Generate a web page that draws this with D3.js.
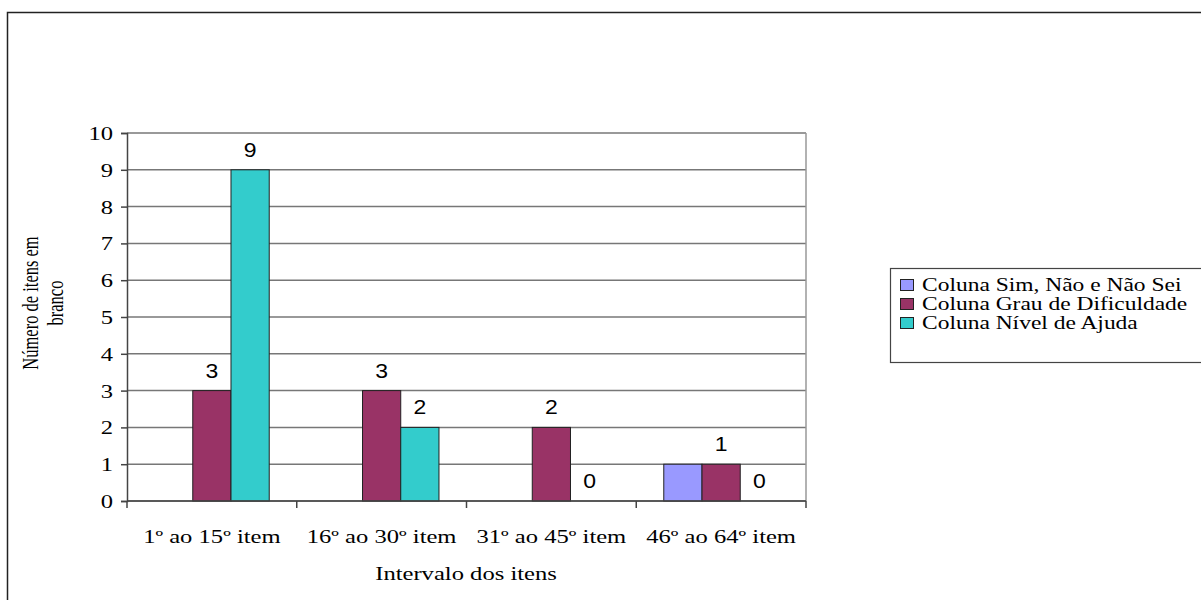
<!DOCTYPE html>
<html><head><meta charset="utf-8">
<script src="https://cdn.jsdelivr.net/npm/d3@7"></script>
<style>body{margin:0;background:#fff}svg{display:block}</style>
</head><body>
<svg id="c" width="1201" height="600"></svg>
<script>
const categories = ["1º ao 15º item", "16º ao 30º item", "31º ao 45º item", "46º ao 64º item"];
const seriesNames = ["Coluna Sim, Não e Não Sei", "Coluna Grau de Dificuldade", "Coluna Nível de Ajuda"];
const simNaoValues = [0, 0, 0, 1];
const grauValues = [3, 3, 2, 1];
const nivelValues = [9, 2, 0, 0];
const showLabels = [false, true, true];
const yTicks = [0,1,2,3,4,5,6,7,8,9,10];
const colors = ["#9999FF", "#993366", "#33CCCC"];
const series = [simNaoValues, grauValues, nivelValues];

const svg = d3.select("#c");
const serif = "'Liberation Serif', 'Times New Roman', serif";
const sans = "'Liberation Sans', Arial, sans-serif";
const SX = 1.33; // horizontal stretch of the original picture's text

function stext(parent, x, y, str, opts) {
  return parent.append("text")
    .attr("transform", `translate(${x},${y}) scale(${opts.sx||SX},1)${opts.rot?" rotate(-90)":""}`)
    .attr("font-family", opts.family||serif).attr("font-size", opts.size||18.5)
    .attr("text-anchor", opts.anchor||"start").attr("fill","#000").text(str);
}

// outer border
svg.append("rect").attr("x",7.5).attr("y",12.5).attr("width",1300).attr("height",700)
  .attr("fill","none").attr("stroke","#222").attr("stroke-width",1.5);

const L=127, R=806, T=133, B=501;
const x = d3.scaleBand().domain(categories).range([L,R]).paddingInner(0).paddingOuter(0);
const y = d3.scaleLinear().domain([0,10]).range([B,T]);
const xs = d3.scaleBand().domain(d3.range(series.length)).range([0, x.bandwidth()]).paddingOuter(0.72).paddingInner(0);

// gridlines
svg.append("g").selectAll("line").data(yTicks).join("line")
  .attr("x1",L).attr("x2",R).attr("y1",d=>y(d)).attr("y2",d=>y(d))
  .attr("stroke","#777").attr("stroke-width",1.5);
svg.append("line").attr("x1",R).attr("x2",R).attr("y1",T).attr("y2",B).attr("stroke","#999").attr("stroke-width",1.5);

// bars
series.forEach((vals, si) => {
  const g = svg.append("g");
  const data = vals.map((v,i)=>({v,c:categories[i]}));
  g.selectAll("rect").data(data.filter(d=>d.v>0)).join("rect")
    .attr("x", d=>x(d.c)+xs(si)).attr("width", xs.bandwidth())
    .attr("y", d=>y(d.v)).attr("height", d=>B-y(d.v))
    .attr("fill", colors[si]).attr("stroke","#222").attr("stroke-width",1);
  if (showLabels[si]) {
    data.forEach(d => stext(g, x(d.c)+xs(si)+xs.bandwidth()/2, y(d.v)-13, d.v,
      {family:sans, size:20, sx:1.15, anchor:"middle"}));
  }
});

// y axis
const yAxis = d3.axisLeft(y).tickValues(yTicks).tickSize(6).tickPadding(8).tickFormat(d3.format("d"));
const ya = svg.append("g").attr("transform",`translate(${L},0)`).call(yAxis);
ya.select(".domain").attr("stroke","#444").attr("stroke-width",1.5);
ya.selectAll(".tick line").attr("stroke","#444").attr("stroke-width",1.5);
ya.selectAll(".tick text").attr("x",0).attr("dy",null).attr("y",6.5)
  .attr("transform",`translate(-14,0) scale(${SX},1)`)
  .attr("font-family",serif).attr("font-size",18.5).attr("fill","#000");

// x axis
const xa = svg.append("g").attr("transform",`translate(0,${B})`);
xa.append("line").attr("x1",L).attr("x2",R).attr("stroke","#444").attr("stroke-width",1.5);
const bounds = categories.map(c=>x(c)).concat([R]);
xa.selectAll("line.t").data(bounds).join("line").attr("class","t")
  .attr("x1",d=>d).attr("x2",d=>d).attr("y1",0).attr("y2",7).attr("stroke","#444").attr("stroke-width",1.5);
categories.forEach(c => stext(xa, x(c)+x.bandwidth()/2, 42, c, {anchor:"middle"}));

// axis titles
stext(svg, 466, 580, "Intervalo dos itens", {anchor:"middle"});
stext(svg, 38, 303, "Número de itens em", {anchor:"middle", rot:true, size:16.5, sx:1.45});
stext(svg, 63, 303, "branco", {anchor:"middle", rot:true, size:16.5, sx:1.45});

// legend
const lg = svg.append("g");
lg.append("rect").attr("x",890.5).attr("y",268.5).attr("width",400).attr("height",94)
  .attr("fill","#fff").attr("stroke","#444").attr("stroke-width",1.2);
seriesNames.forEach((n,i)=>{
  const cy = 285 + i*19;
  lg.append("rect").attr("x",900.5).attr("y",cy-5.5).attr("width",13).attr("height",11)
    .attr("fill",colors[i]).attr("stroke","#222").attr("stroke-width",1);
  stext(lg, 922, cy+6, n, {sx:1.27});
});
</script>
</body></html>
